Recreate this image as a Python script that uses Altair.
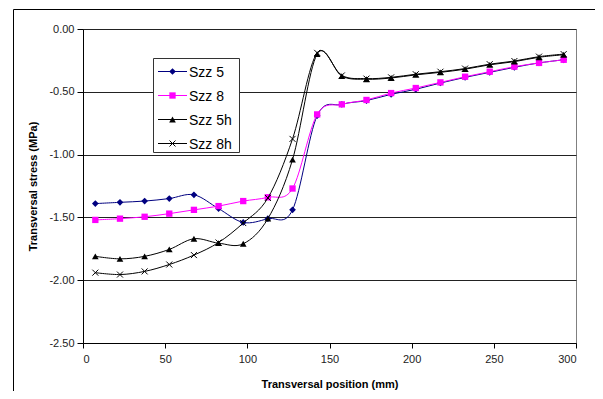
import altair as alt
import pandas as pd

positions = [7.5, 22.5, 37.5, 52.5, 67.5, 82.5, 97.5, 112.5, 127.5, 142.5,
             157.5, 172.5, 187.5, 202.5, 217.5, 232.5, 247.5, 262.5, 277.5, 292.5]
szz5 = [-1.39, -1.38, -1.37, -1.35, -1.32, -1.43, -1.54, -1.51, -1.44, -0.69,
        -0.60, -0.57, -0.52, -0.48, -0.43, -0.385, -0.345, -0.305, -0.27, -0.245]
szz8 = [-1.52, -1.51, -1.495, -1.47, -1.44, -1.41, -1.37, -1.34, -1.27, -0.68,
        -0.60, -0.565, -0.51, -0.47, -0.425, -0.38, -0.34, -0.30, -0.27, -0.245]
szz5h = [-1.81, -1.83, -1.81, -1.755, -1.67, -1.705, -1.71, -1.51, -1.04, -0.20,
         -0.375, -0.40, -0.39, -0.365, -0.345, -0.32, -0.285, -0.26, -0.225, -0.205]
szz8h = [-1.94, -1.955, -1.93, -1.875, -1.80, -1.70, -1.545, -1.345, -0.875, -0.19,
         -0.37, -0.395, -0.385, -0.36, -0.34, -0.315, -0.28, -0.255, -0.22, -0.20]

series_names = ["Szz 5", "Szz 8", "Szz 5h", "Szz 8h"]
series_values = [szz5, szz8, szz5h, szz8h]
y_ticks = [-2.5, -2.0, -1.5, -1.0, -0.5, 0.0]
x_ticks = [0, 50, 100, 150, 200, 250, 300]

XMARK = "M-1,-1L1,1M-1,1L1,-1"
styles = {
    "Szz 5": dict(color="#000080", shape="diamond", size=45, filled=True),
    "Szz 8": dict(color="#FF00FF", shape="square", size=40, filled=True),
    "Szz 5h": dict(color="#000000", shape="triangle-up", size=45, filled=True),
    "Szz 8h": dict(color="#000000", shape=XMARK, size=36, filled=False),
}

rows = []
for name, vals in zip(series_names, series_values):
    for x, v in zip(positions, vals):
        rows.append({"pos": x, "stress": v, "series": name})
df = pd.DataFrame(rows)

FONT = "Liberation Sans"

xenc = alt.X("pos:Q", scale=alt.Scale(domain=[0, 300], nice=False),
             axis=alt.Axis(values=x_ticks, title="Transversal position (mm)", grid=False,
                           tickSize=5, tickColor="black", domainColor="black",
                           labelFontSize=11, labelPadding=5, labelColor="#222",
                           titleFontSize=11, titleFontWeight="bold", titleBaseline="middle",
                           titleY=41, labelFont=FONT, titleFont=FONT))
yenc = alt.Y("stress:Q", scale=alt.Scale(domain=[-2.5, 0], nice=False, zero=False),
             axis=alt.Axis(values=y_ticks, title="Transversal stress (MPa)", grid=True,
                           gridColor="#222", tickSize=6, tickColor="black", domainColor="black",
                           labelFontSize=11, labelPadding=3, labelColor="#222",
                           labelExpr="(datum.value < 0 ? '-' : '') + format(abs(datum.value), '.2f')",
                           titleFontSize=11, titleFontWeight="bold", titleAngle=-90,
                           titleX=-50, titleY=157, titleBaseline="middle",
                           labelFont=FONT, titleFont=FONT))

frame_df = pd.DataFrame({"a": [0]})
one = pd.DataFrame({"b": [1]})
layers = []
# outer chart frame (top and left edges; right/bottom fall outside the page)
layers.append(alt.Chart(frame_df).mark_rect(fill="white", fillOpacity=0, stroke="black",
                                            strokeWidth=1).encode(
    x=alt.value(-69.5), x2=alt.value(600), y=alt.value(-19.5), y2=alt.value(400)))

for name in series_names:
    st = styles[name]
    base = alt.Chart(df).transform_filter(alt.datum.series == name)
    layers.append(base.mark_line(interpolate="cardinal", color=st["color"], strokeWidth=1).encode(
        x=xenc, y=yenc))
    if st["filled"]:
        pt = base.mark_point(shape=st["shape"], size=st["size"], filled=True,
                             color=st["color"], opacity=1)
    else:
        pt = base.mark_point(shape=st["shape"], size=st["size"], filled=False,
                             stroke=st["color"], strokeWidth=1, opacity=1)
    layers.append(pt.encode(x="pos:Q", y="stress:Q"))

# legend box
layers.append(alt.Chart(one).mark_rect(fill="white", stroke="#333", strokeWidth=1).encode(
    x=alt.value(70.5), x2=alt.value(156.5), y=alt.value(29.5), y2=alt.value(123.5)))
row_y = [42.5, 66.5, 90.5, 114.5]
for name, ry in zip(series_names, row_y):
    st = styles[name]
    layers.append(alt.Chart(one).mark_rule(color=st["color"], strokeWidth=1).encode(
        x=alt.value(75), x2=alt.value(104), y=alt.value(ry)))
    if st["filled"]:
        pt = alt.Chart(one).mark_point(shape=st["shape"], size=st["size"], filled=True,
                                       color=st["color"], opacity=1)
    else:
        pt = alt.Chart(one).mark_point(shape=st["shape"], size=st["size"], filled=False,
                                       stroke=st["color"], strokeWidth=1, opacity=1)
    layers.append(pt.encode(x=alt.value(89.5), y=alt.value(ry)))
    layers.append(alt.Chart(one).mark_text(text=name, align="left", baseline="middle",
                                           fontSize=14, font=FONT, color="black").encode(
        x=alt.value(106), y=alt.value(ry + 1)))

chart = alt.layer(*layers).properties(
    width=493, height=314,
    autosize=alt.AutoSizeParams(type="none"),
    padding={"left": 75, "top": 21, "right": 19, "bottom": 48},
    background="white",
).configure_view(stroke="#808080", strokeWidth=1)

chart.save("out.html", embed_options={"renderer": "svg", "actions": False})
